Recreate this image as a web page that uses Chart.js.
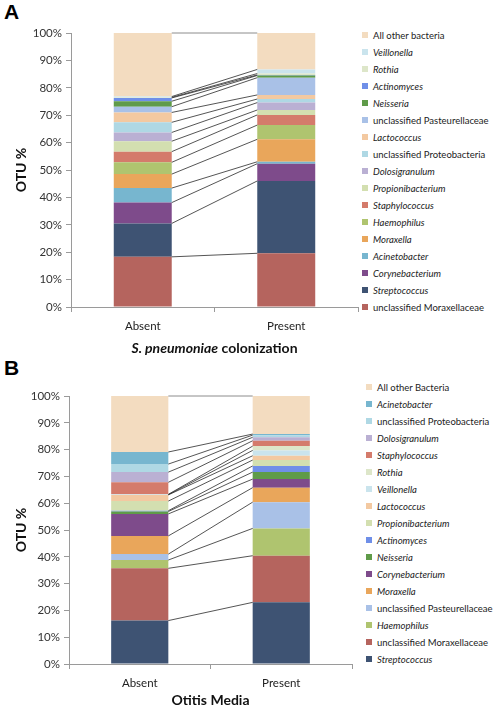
<!DOCTYPE html>
<html>
<head>
<meta charset="utf-8">
<script src="https://cdn.jsdelivr.net/npm/chart.js@4.4.1/dist/chart.umd.min.js"></script>
<style>
  body { margin: 0; background: #fff; font-family: Lato, "Liberation Sans", sans-serif; }
  #page { position: relative; width: 500px; height: 711px; overflow: hidden; }
  .panel { position: absolute; }
  .tag { position: absolute; left: 4px; font: bold 21px "Liberation Sans", Arial, sans-serif; color: #000; }
  .legend { position: absolute; margin: 0; padding: 0; list-style: none; }
  .legend li { position: absolute; left: 0; height: 12px; line-height: 12px; font-size: 9.5px; color: #222; white-space: nowrap; }
  .legend li span { display: inline-block; width: 6px; height: 6px; margin-right: 5px; vertical-align: 1px; }
  .legend li.it { font-style: italic; }
</style>
</head>
<body>
<div id="page">
  <div class="tag" style="top:0px">A</div>
  <div class="panel" style="left:0;top:0;width:360px;height:355px"><canvas id="chartA"></canvas></div>
  <ul class="legend" id="legendA" style="left:362px;top:30px"></ul>

  <div class="tag" style="top:356px">B</div>
  <div class="panel" style="left:0;top:355px;width:355px;height:356px"><canvas id="chartB"></canvas></div>
  <ul class="legend" id="legendB" style="left:366px;top:382px"></ul>
</div>
<script>
// categories
const groups = ['Absent', 'Present'];

// panel A: S. pneumoniae colonization (stack order bottom -> top)
const taxaA = ['unclassified Moraxellaceae', 'Streptococcus', 'Corynebacterium', 'Acinetobacter', 'Moraxella',
  'Haemophilus', 'Staphylococcus', 'Propionibacterium', 'Dolosigranulum', 'unclassified Proteobacteria',
  'Lactococcus', 'unclassified Pasteurellaceae', 'Neisseria', 'Actinomyces', 'Rothia', 'Veillonella',
  'All other bacteria'];
const absentA  = [18.3, 12.2, 7.6, 5.3, 5.1, 4.3, 3.9, 3.8, 3.2, 3.7, 3.6, 2.1, 2.0, 1.2, 0.2, 0.3, 23.2];
const presentA = [19.6, 26.4, 6.3, 0.7, 8.2, 5.2, 3.7, 1.8, 2.7, 1.3, 1.5, 6.3, 0.8, 0.2, 0.5, 1.5, 13.3];

// panel B: Otitis Media (stack order bottom -> top)
const taxaB = ['Streptococcus', 'unclassified Moraxellaceae', 'Haemophilus', 'unclassified Pasteurellaceae',
  'Moraxella', 'Corynebacterium', 'Neisseria', 'Actinomyces', 'Propionibacterium', 'Lactococcus',
  'Veillonella', 'Rothia', 'Staphylococcus', 'Dolosigranulum', 'unclassified Proteobacteria',
  'Acinetobacter', 'All other Bacteria'];
const absentB  = [16.2, 19.5, 3.1, 2.2, 6.8, 8.2, 0.9, 0.3, 3.6, 2.3, 0.1, 0.1, 4.5, 3.8, 3.0, 4.5, 20.9];
const presentB = [23.0, 17.4, 10.2, 9.8, 5.4, 3.2, 2.6, 2.3, 2.2, 1.6, 2.0, 1.6, 2.0, 1.3, 0.8, 0.4, 14.2];

const yTicks = [0, 10, 20, 30, 40, 50, 60, 70, 80, 90, 100];

const colors = {
  'unclassified Moraxellaceae': '#b5645e',
  'Streptococcus': '#3e5373',
  'Corynebacterium': '#7e4b8b',
  'Acinetobacter': '#77b6cf',
  'Moraxella': '#e9a65b',
  'Haemophilus': '#afc46f',
  'Staphylococcus': '#d47b6b',
  'Propionibacterium': '#d3dfb0',
  'Dolosigranulum': '#bab0d3',
  'unclassified Proteobacteria': '#afd8e4',
  'Lactococcus': '#f3c9a1',
  'unclassified Pasteurellaceae': '#a9c1e7',
  'Neisseria': '#5f9b49',
  'Actinomyces': '#6f8fe8',
  'Rothia': '#dde6c9',
  'Veillonella': '#cae4ed',
  'All other bacteria': '#f3dcc0',
  'All other Bacteria': '#f3dcc0'
};

const isItalic = (name) => !/^(unclassified|All other)/.test(name);

// Excel-style series lines between the two stacks
const seriesLines = {
  id: 'seriesLines',
  afterDatasetsDraw(chart) {
    const ctx = chart.ctx;
    const last = chart.data.datasets.length - 1;
    ctx.save();
    ctx.lineWidth = 0.8;
    chart.data.datasets.forEach((ds, i) => {
      const meta = chart.getDatasetMeta(i);
      const a = meta.data[0], b = meta.data[1];
      if (!a || !b) return;
      // top line (100%) is lighter in the original
      ctx.strokeStyle = i === last ? '#6e6e6e' : '#2a2a2a';
      ctx.beginPath();
      ctx.moveTo(a.x + a.width / 2, a.y);
      ctx.lineTo(b.x - b.width / 2, b.y);
      ctx.stroke();
    });
    ctx.restore();
  }
};

// x title drawn with mixed italic parts
const xTitle = {
  id: 'xTitle',
  afterDraw(chart, args, opts) {
    const ctx = chart.ctx;
    const area = chart.chartArea;
    ctx.save();
    ctx.fillStyle = '#111';
    ctx.textBaseline = 'middle';
    let total = 0;
    const parts = opts.parts.map(p => {
      ctx.font = (p.italic ? 'italic ' : '') + 'bold 14px Lato, sans-serif';
      const w = ctx.measureText(p.text).width;
      total += w;
      return { ...p, w };
    });
    let x = (area.left + area.right) / 2 - total / 2;
    parts.forEach(p => {
      ctx.font = (p.italic ? 'italic ' : '') + 'bold 14px Lato, sans-serif';
      ctx.fillText(p.text, x, opts.y);
      x += p.w;
    });
    ctx.restore();
  }
};

function makeChart(id, taxa, absent, present, box, titleParts) {
  const datasets = taxa.map((name, i) => ({
    label: name,
    data: [absent[i], present[i]],
    backgroundColor: colors[name],
    borderWidth: 0,
    barPercentage: 0.404,
    categoryPercentage: 1
  }));
  return new Chart(document.getElementById(id), {
    type: 'bar',
    data: { labels: groups, datasets },
    plugins: [seriesLines, xTitle],
    options: {
      responsive: true,
      maintainAspectRatio: false,
      animation: false,
      layout: { padding: { top: box.top, right: box.right, left: 0, bottom: 0 } },
      plugins: {
        legend: { display: false },
        tooltip: { enabled: false },
        xTitle: { parts: titleParts, y: box.titleY }
      },
      scales: {
        x: {
          stacked: true,
          border: { color: '#9a9a9a' },
          grid: { offset: true, drawOnChartArea: false, drawTicks: true, tickLength: 5, color: '#9a9a9a' },
          ticks: { color: '#222', font: { family: 'Lato', size: 11.5 }, padding: 7 },
          afterFit: (s) => { s.height = box.xh; }
        },
        y: {
          stacked: true,
          min: 0,
          max: 100,
          border: { color: '#9a9a9a' },
          grid: { drawOnChartArea: false, drawTicks: true, tickLength: 5, color: '#9a9a9a' },
          afterBuildTicks: (s) => { s.ticks = yTicks.map(v => ({ value: v })); },
          ticks: { color: '#333', font: { family: 'Lato', size: 11.5 }, padding: 4, callback: (v) => v + '%' },
          title: { display: true, text: 'OTU %', color: '#111', font: { family: 'Lato', size: 14, weight: 'bold' }, padding: { top: 13 } },
          afterFit: (s) => { s.width = box.yw; }
        }
      }
    }
  });
}

function makeLegend(id, taxa) {
  const ul = document.getElementById(id);
  taxa.slice().reverse().forEach((name, i) => {
    const li = document.createElement('li');
    li.style.top = (i * 17) + 'px';
    if (isItalic(name)) li.className = 'it';
    li.innerHTML = `<span style="background:${colors[name]}"></span>${name}`;
    ul.appendChild(li);
  });
}

makeChart('chartA', taxaA, absentA, presentA,
  { top: 33, right: 2, yw: 71, xh: 48, titleY: 348 },
  [{ text: 'S. pneumoniae', italic: true }, { text: ' colonization', italic: false }]);
makeChart('chartB', taxaB, absentB, presentB,
  { top: 41, right: 3, yw: 69, xh: 47, titleY: 345 },
  [{ text: 'Otitis Media', italic: false }]);

makeLegend('legendA', taxaA);
makeLegend('legendB', taxaB);
</script>
</body>
</html>
